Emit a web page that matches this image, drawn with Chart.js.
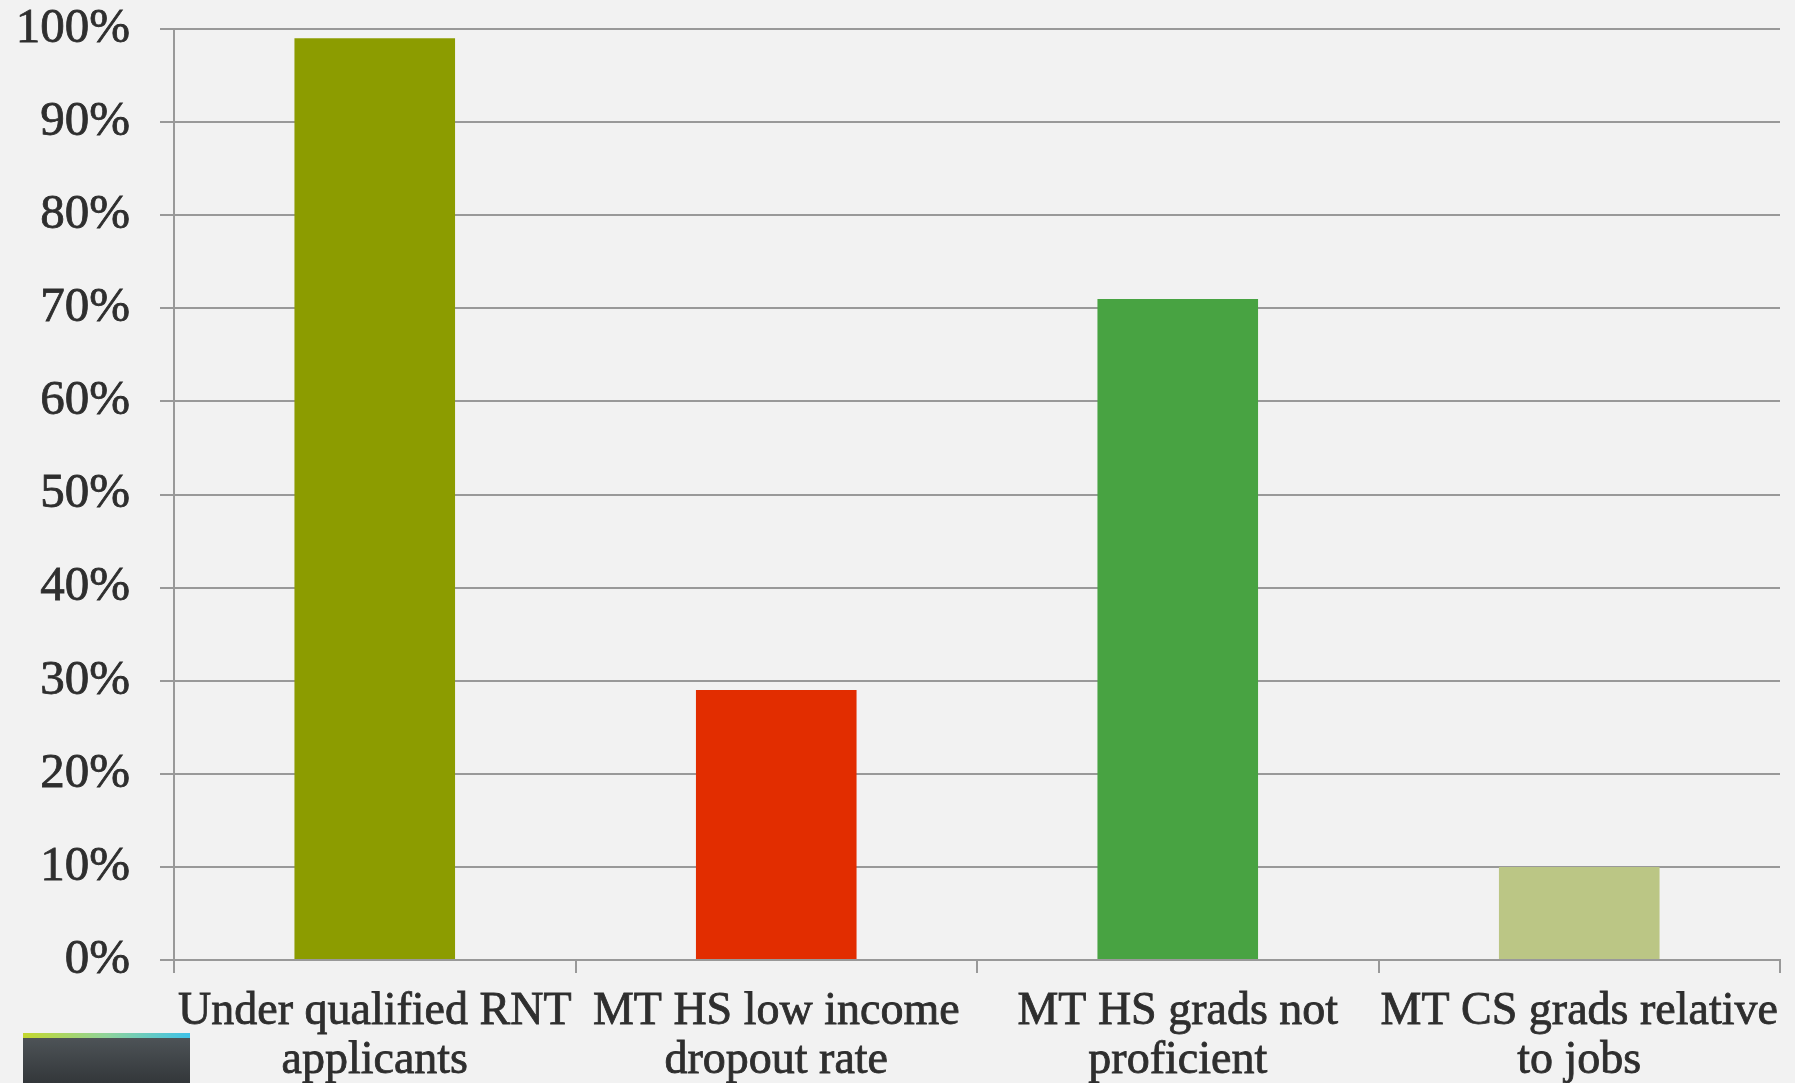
<!DOCTYPE html>
<html>
<head>
<meta charset="utf-8">
<script src="https://cdn.jsdelivr.net/npm/chart.js@4.4.1/dist/chart.umd.min.js"></script>
<style>
  html, body { margin: 0; padding: 0; background: #f2f2f2; overflow: hidden; }
  #wrap { position: relative; width: 1795px; height: 1083px; }
  canvas { display: block; }
  #deco { position: absolute; left: 23px; top: 1033px; width: 167px; height: 50px;
          background: linear-gradient(#50565a, #33373a); }
  #deco::before { content: ""; position: absolute; left: 0; top: 0; width: 100%; height: 5px;
          background: linear-gradient(to right, #c4d82e, #8fd39a, #3fc2e8); }
</style>
</head>
<body>
<div id="wrap">
  <canvas id="c" width="1795" height="1083"></canvas>
  <div id="deco"></div>
</div>
<script>
const categories = [
  ['Under qualified RNT', 'applicants'],
  ['MT HS low income', 'dropout rate'],
  ['MT HS grads not', 'proficient'],
  ['MT CS grads relative', 'to jobs']
];
const values = [99, 29, 71, 10];
const barColors = ['#8c9c00', '#e22d00', '#48a342', '#bbc685'];
const yTicks = [0, 10, 20, 30, 40, 50, 60, 70, 80, 90, 100];

const gridColor = '#999999';
const textColor = '#2e2e2e';
const fontFamily = '"Liberation Serif", "DejaVu Serif", serif';

new Chart(document.getElementById('c'), {
  type: 'bar',
  data: {
    labels: categories,
    datasets: [{
      data: values,
      backgroundColor: barColors,
      borderWidth: 0,
      categoryPercentage: 0.8,
      barPercentage: 0.5
    }]
  },
  options: {
    responsive: false,
    animation: false,
    events: [],
    layout: { padding: { top: 29, right: 15, left: 0, bottom: 0 } },
    plugins: { legend: { display: false }, tooltip: { enabled: false } },
    scales: {
      x: {
        grid: { display: true, drawOnChartArea: false, offset: true, tickLength: 13, color: gridColor, lineWidth: 2 },
        border: { display: true, color: gridColor, width: 2 },
        ticks: {
          color: textColor, padding: 14, maxRotation: 0, autoSkip: false,
          textStrokeColor: textColor, textStrokeWidth: 0.8,
          font: { family: fontFamily, size: 46, lineHeight: 1.07 }
        },
        afterFit: (s) => { s.height = 123; s.paddingLeft = 0; s.paddingRight = 0; }
      },
      y: {
        min: 0, max: 100,
        afterBuildTicks: (s) => { s.ticks = yTicks.map(v => ({ value: v })); },
        grid: { color: gridColor, lineWidth: 2, tickLength: 14 },
        border: { display: true, color: gridColor, width: 2 },
        ticks: {
          color: textColor, padding: 30,
          textStrokeColor: textColor, textStrokeWidth: 0.8,
          font: { family: fontFamily, size: 49 },
          callback: (v) => v + '%'
        },
        afterFit: (s) => { s.width = 174; s.paddingTop = 0; s.paddingBottom = 0; }
      }
    }
  }
});
</script>
</body>
</html>
